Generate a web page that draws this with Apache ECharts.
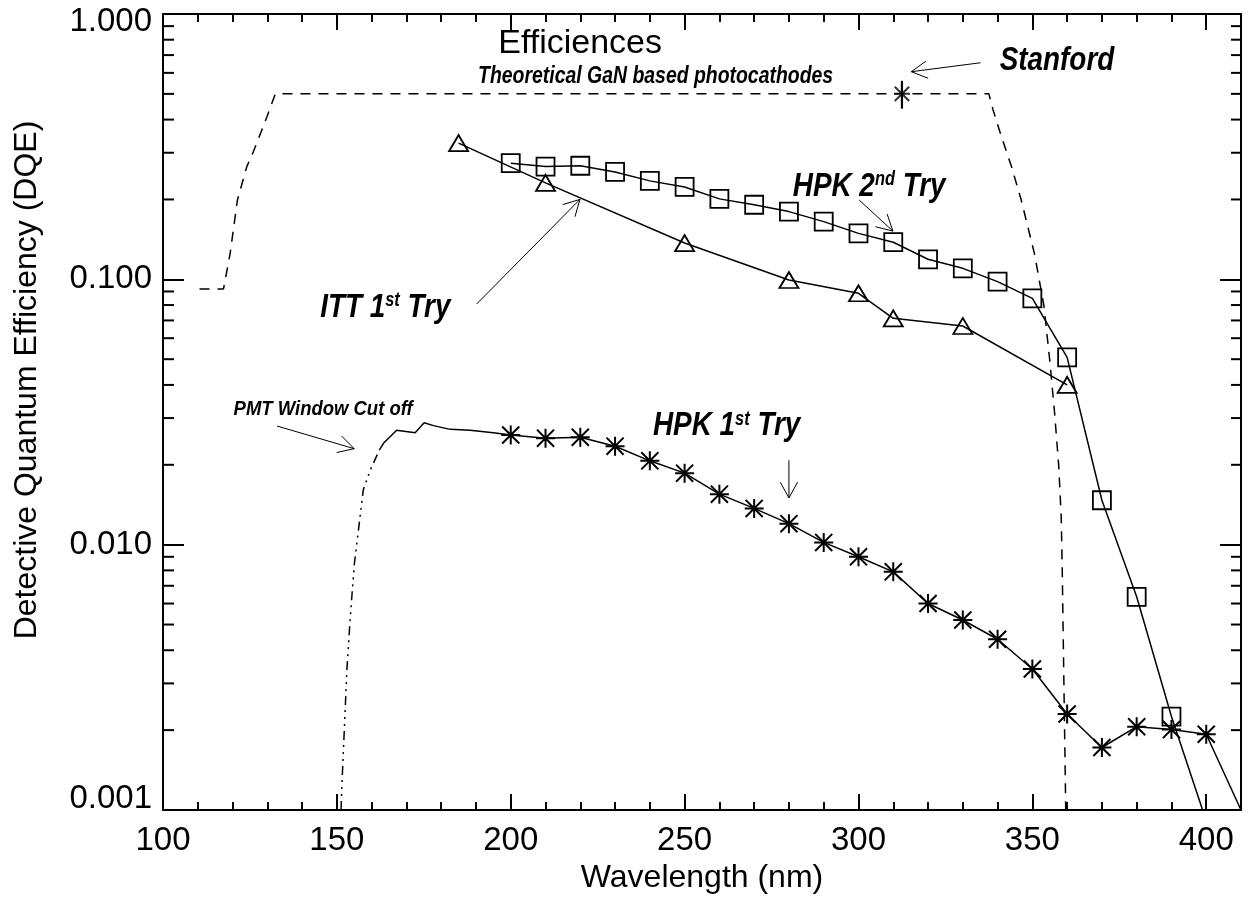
<!DOCTYPE html>
<html>
<head>
<meta charset="utf-8">
<script src="https://cdn.jsdelivr.net/npm/echarts@6/dist/echarts.min.js"></script>
<style>
  html, body { margin: 0; padding: 0; background: #fff; }
  #chart { width: 1249px; height: 902px; }
</style>
</head>
<body>
<div id="chart"></div>
<script>
// Theoretical GaN based photocathodes (dashed)
const theoWave = [110.5, 117.4, 119.3, 121.4, 124.1, 126.0, 129.9, 132.3, 337.5, 338.7, 341.1, 344.0, 346.8, 350.6, 353.3, 355.0, 356.4, 357.6, 358.3, 358.6, 359.6];
const theoDqe = [0.092, 0.092, 0.125, 0.199, 0.266, 0.303, 0.41, 0.50, 0.50, 0.435, 0.345, 0.266, 0.199, 0.125, 0.080, 0.0496, 0.0313, 0.0197, 0.0127, 0.0080, 0.001];

// Stanford point with its error bar
const stanfordWave = [312.5];
const stanfordDqe = [0.50];
const stanfordErr = [0.44, 0.56];

// HPK 2nd Try (squares)
const hpk2Wave = [200, 210, 220, 230, 240, 250, 260, 270, 280, 290, 300, 310, 320, 330, 340, 350, 360, 370, 380, 390, 400];
const hpk2Dqe = [0.274, 0.266, 0.268, 0.254, 0.235, 0.223, 0.201, 0.191, 0.180, 0.165, 0.149, 0.138, 0.119, 0.110, 0.098, 0.0848, 0.0508, 0.0147, 0.00636, 0.00225, 0.00091];

// ITT 1st Try (triangles)
const ittWave = [185, 210, 250, 280, 300, 310, 330, 360];
const ittDqe = [0.326, 0.231, 0.137, 0.0994, 0.0886, 0.0713, 0.0667, 0.040];

// PMT window cut off (dash dot dot)
const pmtWave = [151.2, 151.4, 152.9, 153.8, 155.0, 157.6, 159.6, 162.2];
const pmtDqe = [0.001, 0.0012, 0.0034, 0.0052, 0.0084, 0.0161, 0.0191, 0.0227];

// HPK 1st Try, continuous scan before the measured points
const hpk1ScanWave = [162.2, 163.4, 165.3, 167.2, 172.5, 175.1, 177.8, 182.6, 188.3, 195.0, 200];
const hpk1ScanDqe = [0.0227, 0.0241, 0.0255, 0.0270, 0.0264, 0.0288, 0.0281, 0.0272, 0.0270, 0.0264, 0.0259];

// HPK 1st Try (asterisks)
const hpk1Wave = [200, 210, 220, 230, 240, 250, 260, 270, 280, 290, 300, 310, 320, 330, 340, 350, 360, 370, 380, 390, 400, 410];
const hpk1Dqe = [0.0259, 0.0252, 0.0254, 0.0235, 0.0207, 0.0186, 0.0155, 0.0137, 0.0120, 0.0102, 0.0090, 0.0079, 0.0060, 0.0052, 0.0044, 0.0034, 0.0023, 0.00172, 0.00206, 0.00201, 0.00193, 0.001];

// axes
const xRange = [100, 410];
const yRange = [0.001, 1];
const yMinorMultipliers = [2, 3, 4, 5, 6, 7, 8, 9];
const yDecades = [0.001, 0.01, 0.1];

const FONT = '"Liberation Sans", Arial, Helvetica, sans-serif';
const STAR = 'path://M10,0L10,20M0,10L20,10M1,1L19,19M1,19L19,1';

const pairs = (xs, ys) => xs.map((x, i) => [x, ys[i]]);
const inFrame = v => v[0] >= xRange[0] && v[0] < xRange[1] && v[1] > yRange[0] * 1.0001 && v[1] <= yRange[1];
const symbolIf = name => (v => inFrame(v) ? name : 'none');

const chart = echarts.init(document.getElementById('chart'));

const black = '#000';
const hollow = { color: 'rgba(0,0,0,0)', borderColor: black, borderWidth: 1.8 };
const starStyle = { color: 'rgba(0,0,0,0)', borderColor: black, borderWidth: 2 };

const xBase = {
  type: 'value', min: xRange[0], max: xRange[1],
  axisLine: { show: false },
  splitLine: { show: false },
  axisLabel: { show: false }
};
const yBase = {
  type: 'log', logBase: 10, min: yRange[0], max: yRange[1],
  splitLine: { show: false },
  minorTick: { show: false }
};

function yLabel(v) {
  const s = v.toFixed(3);
  if (v > 0.5) return '{hi|' + s + '}';
  if (v < 0.002) return '{lo|' + s + '}';
  return '{n|' + s + '}';
}
const labelFont = { fontSize: 33, fontFamily: FONT, color: black };
const titleFont = { fontSize: 32, fontFamily: FONT, color: black };

chart.setOption({
  animation: false,
  backgroundColor: '#fff',
  grid: { left: 163, right: 8, top: 14, bottom: 92, outerBoundsMode: 'none' },
  xAxis: [
    Object.assign({}, xBase, {
      position: 'bottom', interval: 50,
      axisLine: { show: true, onZero: false, lineStyle: { color: black, width: 2 } },
      axisTick: { inside: true, length: 16, lineStyle: { color: black, width: 2 } },
      axisLabel: Object.assign({ show: true, margin: 14, formatter: v => (v % 50 === 0 ? String(v) : '') }, labelFont),
      name: 'Wavelength (nm)', nameLocation: 'middle', nameGap: 49,
      nameTextStyle: titleFont
    }),
    Object.assign({}, xBase, {
      position: 'bottom', interval: 10,
      axisTick: { inside: true, length: 8, lineStyle: { color: black, width: 2 } }
    }),
    Object.assign({}, xBase, {
      position: 'top', interval: 50,
      axisLine: { show: true, onZero: false, lineStyle: { color: black, width: 2 } },
      axisTick: { inside: true, length: 16, lineStyle: { color: black, width: 2 } }
    }),
    Object.assign({}, xBase, {
      position: 'top', interval: 10,
      axisTick: { inside: true, length: 8, lineStyle: { color: black, width: 2 } }
    })
  ],
  yAxis: [
    Object.assign({}, yBase, {
      position: 'left',
      axisLine: { show: true, onZero: false, lineStyle: { color: black, width: 2 } },
      axisTick: { inside: true, length: 21, lineStyle: { color: black, width: 2 } },
      axisLabel: {
        margin: 11, formatter: yLabel,
        rich: {
          n: labelFont,
          hi: Object.assign({ padding: [16, 0, 0, 0] }, labelFont),
          lo: Object.assign({ padding: [0, 0, 22, 0] }, labelFont)
        }
      }
    }),
    Object.assign({}, yBase, {
      position: 'right',
      axisLine: { show: true, onZero: false, lineStyle: { color: black, width: 2 } },
      axisTick: { inside: true, length: 21, lineStyle: { color: black, width: 2 } },
      axisLabel: { show: false }
    })
  ],
  series: [
    {
      name: 'Theoretical GaN', type: 'line', data: pairs(theoWave, theoDqe),
      symbol: 'none', lineStyle: { color: black, width: 1.5, type: [10, 8] }
    },
    {
      name: 'Stanford error', type: 'line',
      data: pairs([stanfordWave[0], stanfordWave[0]], stanfordErr),
      symbol: 'none', lineStyle: { color: black, width: 2.2 }
    },
    {
      name: 'Stanford', type: 'scatter', data: pairs(stanfordWave, stanfordDqe),
      symbol: STAR, symbolSize: 16, itemStyle: starStyle
    },
    {
      name: 'HPK 2nd Try', type: 'line', data: pairs(hpk2Wave, hpk2Dqe),
      symbol: symbolIf('rect'), symbolSize: 18, showAllSymbol: true,
      itemStyle: hollow, lineStyle: { color: black, width: 1.5 }
    },
    {
      name: 'ITT 1st Try', type: 'line', data: pairs(ittWave, ittDqe),
      symbol: symbolIf('triangle'), symbolSize: [19, 16], showAllSymbol: true,
      itemStyle: hollow, lineStyle: { color: black, width: 1.5 }
    },
    {
      name: 'PMT Window Cut off', type: 'line', data: pairs(pmtWave, pmtDqe),
      symbol: 'none', lineStyle: { color: black, width: 1.5, type: [9, 5, 2, 5, 2, 5, 2, 5] }
    },
    {
      name: 'HPK 1st scan', type: 'line', data: pairs(hpk1ScanWave, hpk1ScanDqe),
      symbol: 'none', lineStyle: { color: black, width: 1.5 }
    },
    {
      name: 'HPK 1st Try', type: 'line', data: pairs(hpk1Wave, hpk1Dqe),
      symbol: symbolIf(STAR), symbolSize: 19, showAllSymbol: true,
      itemStyle: starStyle, lineStyle: { color: black, width: 1.5 }
    }
  ]
});

// annotations, anchored in data units
const px = (x, y) => chart.convertToPixel({ xAxisIndex: 0, yAxisIndex: 0 }, [x, y]);
const grid = chart.getModel().getComponent('grid').coordinateSystem.getRect();

const big = { fontSize: 34, fontWeight: 'bold', fontStyle: 'italic', fontFamily: FONT, fill: black };
const sup = { fontSize: 20, lineHeight: 16, verticalAlign: 'top', fontWeight: 'bold', fontStyle: 'italic', fontFamily: FONT, fill: black };

const notes = [
  { text: 'Efficiences', at: [196.4, 0.774], sx: 1, style: { fontSize: 34, fontFamily: FONT, fill: black } },
  { text: 'Theoretical GaN based photocathodes', at: [190.6, 0.581], sx: 0.82, style: { fontSize: 23.7, fontWeight: 'bold', fontStyle: 'italic', fontFamily: FONT, fill: black } },
  { text: 'Stanford', at: [340.6, 0.668], sx: 0.82, style: big },
  { text: '{m|HPK 2}{s|nd}{m| Try}', at: [281.1, 0.224], sx: 0.82, rich: true },
  { text: '{m|ITT 1}{s|st}{m| Try}', at: [145.2, 0.0783], sx: 0.82, rich: true },
  { text: '{m|HPK 1}{s|st}{m| Try}', at: [240.9, 0.028], sx: 0.82, rich: true },
  { text: 'PMT Window Cut off', at: [120.3, 0.0324], sx: 0.88, style: { fontSize: 21, fontWeight: 'bold', fontStyle: 'italic', fontFamily: FONT, fill: black } }
];

const arrows = [
  { from: [335.1, 0.655], to: [315.2, 0.606] },
  { from: [300.2, 0.199], to: [309.9, 0.152] },
  { from: [190.2, 0.0807], to: [219.9, 0.2001] },
  { from: [132.8, 0.028], to: [155.0, 0.0230] },
  { from: [280.0, 0.0208], to: [280.0, 0.0150] }
];

const elements = [];

notes.forEach(n => {
  const p = px(n.at[0], n.at[1]);
  const style = n.rich
    ? { text: n.text, rich: { m: Object.assign({ lineHeight: 34 }, big), s: sup } }
    : Object.assign({ text: n.text }, n.style);
  style.align = 'left';
  style.verticalAlign = 'middle';
  elements.push({ type: 'text', x: p[0], y: p[1], scaleX: n.sx, style: style, silent: true });
});

arrows.forEach(a => {
  const t = px(a.from[0], a.from[1]);
  const h = px(a.to[0], a.to[1]);
  const ang = Math.atan2(t[1] - h[1], t[0] - h[0]);
  const len = 18, spread = 0.5;
  const w1 = [h[0] + len * Math.cos(ang + spread), h[1] + len * Math.sin(ang + spread)];
  const w2 = [h[0] + len * Math.cos(ang - spread), h[1] + len * Math.sin(ang - spread)];
  const st = { stroke: black, lineWidth: 1, fill: 'none' };
  elements.push({ type: 'polyline', shape: { points: [t, h] }, style: st, silent: true });
  elements.push({ type: 'polyline', shape: { points: [w1, h, w2] }, style: st, silent: true });
});

// minor ticks of the log axis, on both sides
yDecades.forEach(d => {
  yMinorMultipliers.forEach(k => {
    const y = px(xRange[0], k * d)[1];
    elements.push({ type: 'line', shape: { x1: grid.x, y1: y, x2: grid.x + 11, y2: y }, style: { stroke: black, lineWidth: 2 }, silent: true });
    elements.push({ type: 'line', shape: { x1: grid.x + grid.width - 10, y1: y, x2: grid.x + grid.width, y2: y }, style: { stroke: black, lineWidth: 2 }, silent: true });
  });
});

// y axis title
elements.push({
  type: 'text', x: 27, y: 380, rotation: Math.PI / 2, silent: true,
  style: { text: 'Detective Quantum Efficiency (DQE)', fontSize: 32, fontFamily: FONT, fill: black, align: 'center', verticalAlign: 'middle' }
});

chart.setOption({ graphic: { elements: elements } });
</script>
</body>
</html>
